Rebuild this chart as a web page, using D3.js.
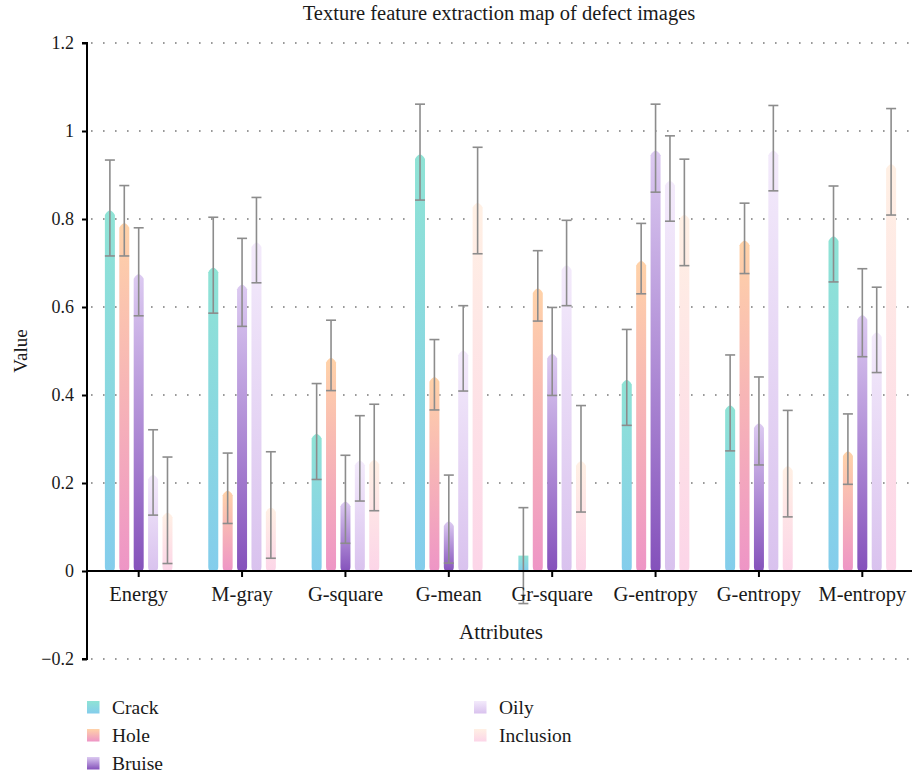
<!DOCTYPE html>
<html>
<head>
<meta charset="utf-8">
<script src="https://cdn.jsdelivr.net/npm/d3@7"></script>
<style>
  body { margin: 0; background: #fff; }
  svg text { font-family: "Liberation Serif", "Times New Roman", serif; fill: #1a1a1a; }
</style>
</head>
<body>
<div id="chart"></div>
<script>
// texture features per defect type
const attributes = ["Energy", "M-gray", "G-square", "G-mean", "Gr-square", "G-entropy", "G-entropy", "M-entropy"];
const series = ["Crack", "Hole", "Bruise", "Oily", "Inclusion"];

const crack     = [0.825, 0.695, 0.317, 0.952, 0.035, 0.440, 0.382, 0.766];
const hole      = [0.796, 0.188, 0.490, 0.446, 0.648, 0.710, 0.756, 0.277];
const bruise    = [0.680, 0.656, 0.163, 0.118, 0.499, 0.961, 0.341, 0.587];
const oily      = [0.224, 0.752, 0.256, 0.506, 0.700, 0.892, 0.961, 0.548];
const inclusion = [0.138, 0.150, 0.258, 0.842, 0.255, 0.815, 0.244, 0.930];

// error bar half-length for each series
const errors = [0.109, 0.080, 0.100, 0.097, 0.121];

const yTicks = [-0.2, 0, 0.2, 0.4, 0.6, 0.8, 1, 1.2];

// gradient top / bottom colours
const colorsTop    = ["#8fe3d5", "#ffd2a8", "#dccaf1", "#f3eafb", "#fff0e4"];
const colorsBottom = ["#84cdec", "#ee95c6", "#8451bb", "#d9c2ee", "#fcd5e8"];

const values = [crack, hole, bruise, oily, inclusion];

const W = 912, H = 777;
const margin = { left: 87, right: 914, top: 43, bottom: 659 };

const svg = d3.select("#chart").append("svg")
    .attr("width", W)
    .attr("height", H);

const defs = svg.append("defs");
series.forEach((s, i) => {
    const g = defs.append("linearGradient")
        .attr("id", "grad" + i)
        .attr("x1", 0).attr("y1", 0).attr("x2", 0).attr("y2", 1);
    g.append("stop").attr("offset", "0%").attr("stop-color", colorsTop[i]);
    g.append("stop").attr("offset", "100%").attr("stop-color", colorsBottom[i]);
});

const y = d3.scaleLinear().domain([-0.2, 1.2]).range([margin.bottom, margin.top]);

const x0 = d3.scaleBand()
    .domain(d3.range(attributes.length))
    .range([margin.left, margin.right]);

const x1 = d3.scaleBand()
    .domain(series)
    .range([-36, 36]);

const barW = 10;

// dotted grid
svg.append("g")
    .selectAll("line")
    .data(yTicks.filter(d => d !== 0))
    .join("line")
    .attr("x1", margin.left + 4)
    .attr("x2", W)
    .attr("y1", d => y(d))
    .attr("y2", d => y(d))
    .attr("stroke", "#7a7a7a")
    .attr("stroke-width", 1.6)
    .attr("stroke-dasharray", "1.6,10.4");

// bars
const groups = svg.append("g")
    .selectAll("g")
    .data(attributes.map((a, i) => i))
    .join("g")
    .attr("transform", i => `translate(${x0(i) + x0.bandwidth() / 2},0)`);

function barPath(v) {
    const yt = y(v), yb = y(0);
    const xl = -barW / 2, xr = barW / 2;
    if (yb - yt < 20) {
        return `M${xl},${yt}H${xr}V${yb}H${xl}Z`;
    }
    return `M${xl},${yt + 7} Q0,${yt - 2} ${xr},${yt + 7} V${yb - 4} Q${xr},${yb + 1} 0,${yb + 1} Q${xl},${yb + 1} ${xl},${yb - 4} Z`;
}

groups.each(function(gi) {
    const g = d3.select(this);
    const rows = series.map((s, si) => ({ s, si, v: values[si][gi], e: errors[si] }));

    g.selectAll("path.bar")
        .data(rows)
        .join("path")
        .attr("class", "bar")
        .attr("transform", d => `translate(${x1(d.s) + x1.bandwidth() / 2},0)`)
        .attr("d", d => barPath(d.v))
        .attr("fill", d => `url(#grad${d.si})`);

    const eb = g.selectAll("g.err")
        .data(rows)
        .join("g")
        .attr("class", "err")
        .attr("transform", d => `translate(${x1(d.s) + x1.bandwidth() / 2},0)`)
        .attr("stroke", "#8c8c8c")
        .attr("stroke-width", 1.6);

    eb.append("line")
        .attr("y1", d => y(d.v + d.e))
        .attr("y2", d => y(d.v - d.e));
    eb.append("line")
        .attr("x1", -5).attr("x2", 5)
        .attr("y1", d => y(d.v + d.e))
        .attr("y2", d => y(d.v + d.e));
    eb.append("line")
        .attr("x1", -5).attr("x2", 5)
        .attr("y1", d => y(d.v - d.e))
        .attr("y2", d => y(d.v - d.e));
});

// y axis
const yAxis = svg.append("g")
    .attr("transform", `translate(${margin.left},0)`)
    .call(d3.axisLeft(y).tickValues(yTicks).tickSize(5).tickPadding(8).tickFormat(d3.format("~g")));
yAxis.select(".domain").attr("stroke", "#000").attr("stroke-width", 2).attr("d", `M-5,${margin.top}H0V${margin.bottom}H-5`);
yAxis.selectAll(".tick line").attr("stroke", "#000").attr("stroke-width", 2);
yAxis.selectAll("text")
    .style("font-family", "Liberation Serif, serif")
    .style("font-size", "18px")
    .attr("fill", "#1a1a1a");

// x axis at zero
const xAxis = svg.append("g")
    .attr("transform", `translate(0,${y(0)})`)
    .call(d3.axisBottom(x0).tickSize(6).tickPadding(9).tickFormat(i => attributes[i]));
xAxis.select(".domain").attr("stroke", "#000").attr("stroke-width", 2).attr("d", `M${margin.left},0H${W}`);
xAxis.selectAll(".tick line").attr("stroke", "#000").attr("stroke-width", 2);
xAxis.selectAll("text")
    .style("font-family", "Liberation Serif, serif")
    .style("font-size", "20.5px")
    .attr("fill", "#1a1a1a");

// titles
svg.append("text")
    .attr("x", 499)
    .attr("y", 20)
    .attr("text-anchor", "middle")
    .style("font-size", "20.5px")
    .text("Texture feature extraction map of defect images");

svg.append("text")
    .attr("x", 501)
    .attr("y", 639)
    .attr("text-anchor", "middle")
    .style("font-size", "21px")
    .text("Attributes");

svg.append("text")
    .attr("transform", `translate(27,${y(0.5)}) rotate(-90)`)
    .attr("text-anchor", "middle")
    .style("font-size", "19px")
    .text("Value");

// legend
const legendPos = [[87, 707], [87, 735], [87, 763], [474, 707], [474, 735]];
const legend = svg.append("g")
    .selectAll("g")
    .data(series)
    .join("g")
    .attr("transform", (d, i) => `translate(${legendPos[i][0]},${legendPos[i][1]})`);
legend.append("rect")
    .attr("x", 0).attr("y", -6)
    .attr("width", 12.5).attr("height", 12.5)
    .attr("fill", (d, i) => `url(#grad${i})`);
legend.append("text")
    .attr("x", 25)
    .attr("y", 7)
    .style("font-size", "19.5px")
    .text(d => d);
</script>
</body>
</html>
